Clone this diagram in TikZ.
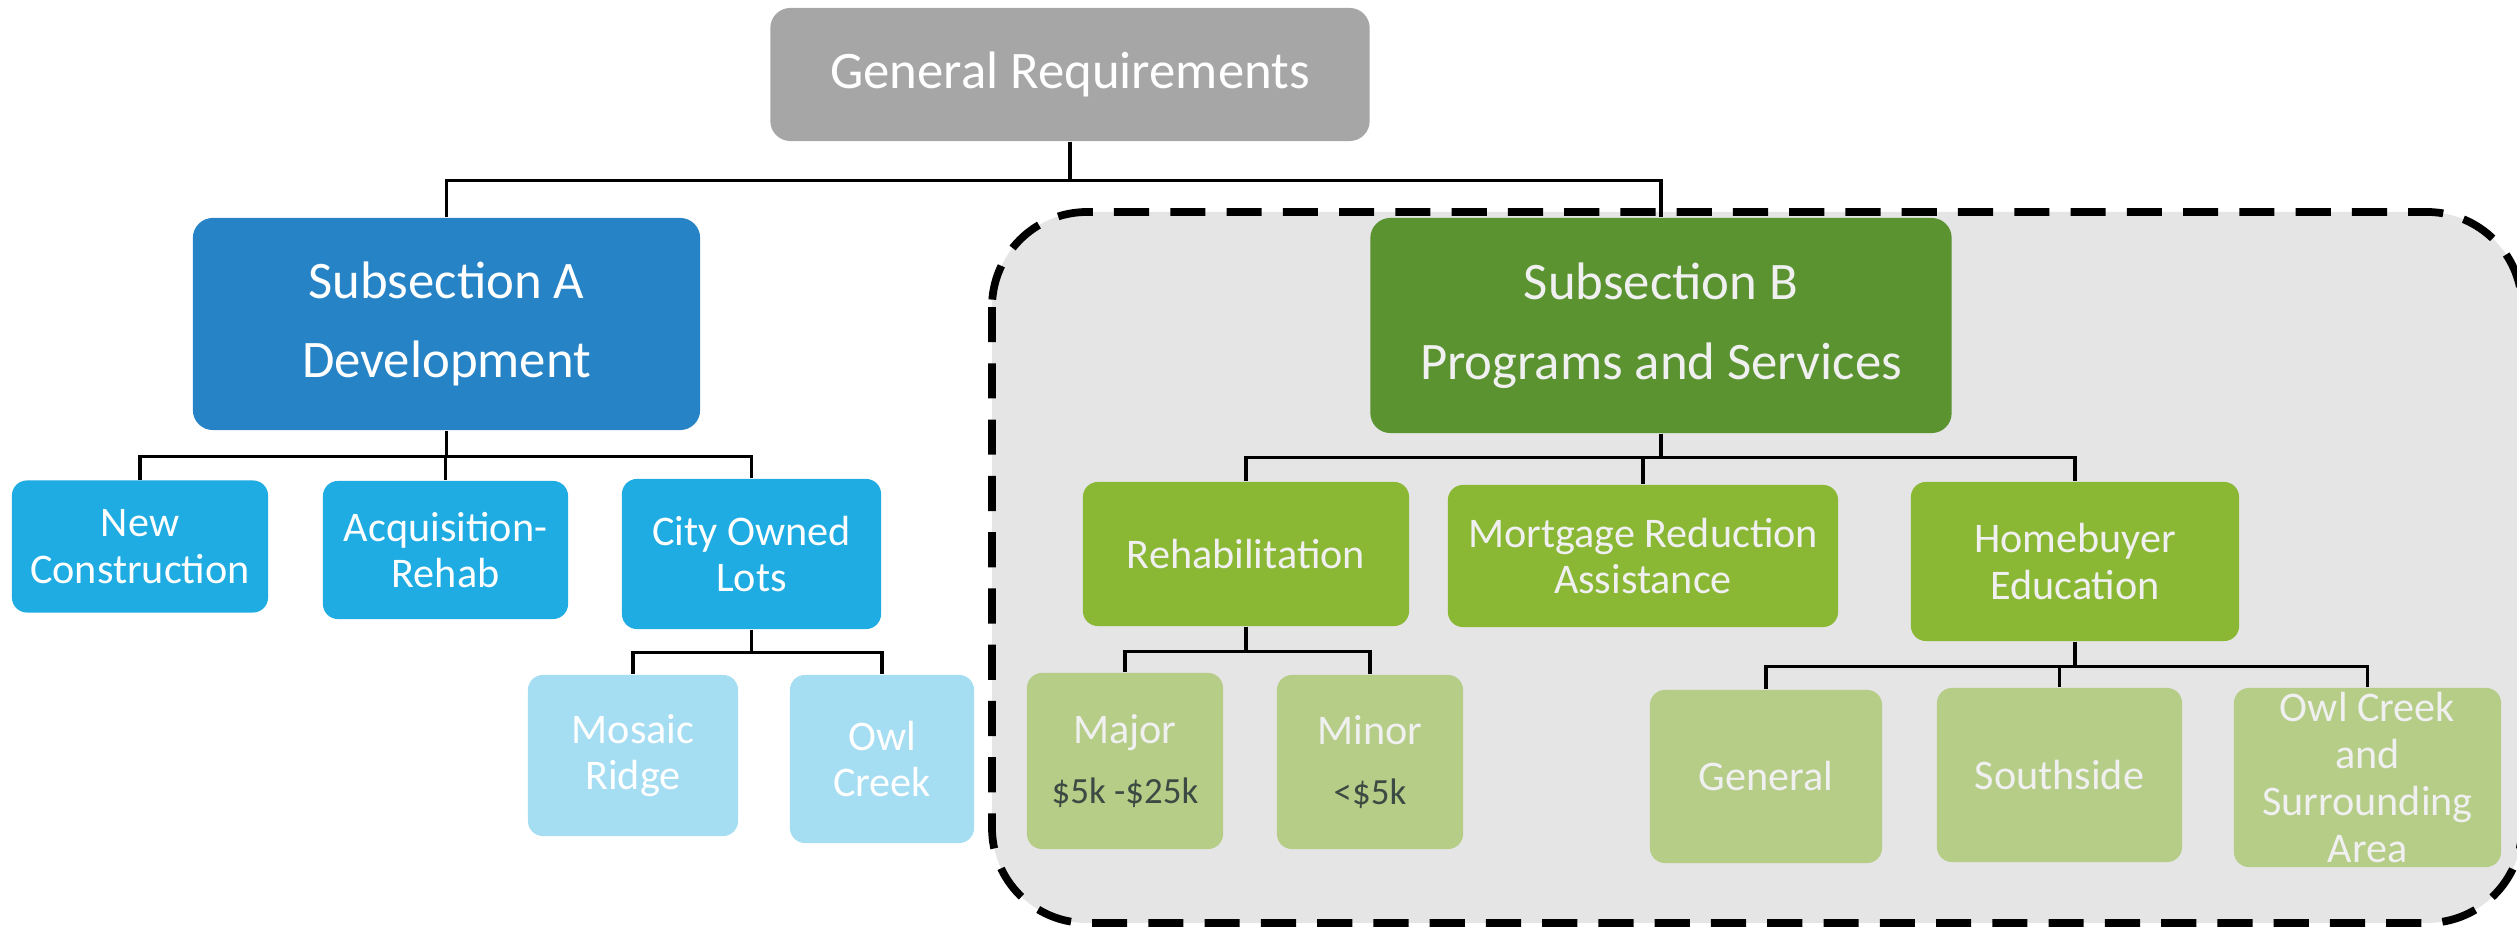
\documentclass[tikz,border=0pt]{standalone}
\usepackage{fontspec}
\setmainfont{Carlito}
\definecolor{reqgray}{HTML}{A6A6A6}
\definecolor{devblue}{HTML}{2683C6}
\definecolor{devlight}{HTML}{1EACE2}
\definecolor{devpale}{HTML}{A5DDF2}
\definecolor{proggreen}{HTML}{5B9331}
\definecolor{progmid}{HTML}{8AB734}
\definecolor{progpale}{HTML}{B6CD88}
\definecolor{panel}{HTML}{E5E5E5}
\definecolor{paletext}{HTML}{F0F0F0}
\definecolor{costtext}{HTML}{3B4A42}

\begin{document}
\begin{tikzpicture}[x=0.01cm,y=-0.01cm,
  box/.style={rounded corners=0.15cm,inner sep=0pt,align=center,text=white,font=\fontsize{12}{13.3}\selectfont},
  head/.style={box,rounded corners=0.2cm,font=\fontsize{15}{22.7}\selectfont},
  conn/.style={line width=0.9pt}]
\useasboundingbox (0,0) rectangle (2517,928);
\draw[fill=panel,line width=2.2pt,dash pattern=on 10pt off 6pt,rounded corners=0.95cm] (992,212) rectangle (2522,923);

\node[head,fill=reqgray,minimum width=5.99cm,minimum height=1.33cm,font=\fontsize{15}{18}\selectfont] (gen) at (1070,74.5) {General Requirements};
\node[head,fill=devblue,minimum width=5.07cm,minimum height=2.12cm] (subA) at (446.5,324) {Subsection A\\Development};
\node[head,fill=proggreen,text=paletext,minimum width=5.81cm,minimum height=2.15cm] (subB) at (1661,325.5) {Subsection B\\Programs and Services};

\node[box,fill=devlight,minimum width=2.56cm,minimum height=1.32cm] (newc) at (140,546.5) {New\\Construction};
\node[box,fill=devlight,minimum width=2.45cm,minimum height=1.38cm] (acq) at (445.5,550) {Acquisition-\\Rehab};
\node[box,fill=devlight,minimum width=2.59cm,minimum height=1.50cm] (city) at (751.5,554) {City Owned\\Lots};
\node[box,fill=devpale,minimum width=2.10cm,minimum height=1.61cm] (mosaic) at (633,755.5) {Mosaic\\Ridge};
\node[box,fill=devpale,minimum width=1.84cm,minimum height=1.68cm] (owl) at (882,759) {Owl\\Creek};

\node[box,fill=progmid,text=paletext,minimum width=3.26cm,minimum height=1.44cm] (rehab) at (1246,554) {Rehabilitation};
\node[box,fill=progmid,text=paletext,minimum width=3.90cm,minimum height=1.42cm] (mort) at (1643,556) {Mortgage Reduction\\Assistance};
\node[box,fill=progmid,text=paletext,minimum width=3.28cm,minimum height=1.59cm] (home) at (2075,561.5) {Homebuyer\\Education};

\node[box,fill=progpale,text=paletext,minimum width=1.96cm,minimum height=1.76cm] (major) at (1125,761) {Major\\[4pt]{\color{costtext}\fontsize{10.5}{12}\selectfont\$5k -\$25k}};
\node[box,fill=progpale,text=paletext,minimum width=1.86cm,minimum height=1.74cm] (minor) at (1370,762) {Minor\\[4pt]{\color{costtext}\fontsize{10.5}{12}\selectfont<\$5k}};
\node[box,fill=progpale,text=paletext,minimum width=2.32cm,minimum height=1.73cm] (general) at (1766,776.5) {General};
\node[box,fill=progpale,text=paletext,minimum width=2.45cm,minimum height=1.74cm] (south) at (2059.5,775) {Southside};
\node[box,fill=progpale,text=paletext,minimum width=2.67cm,minimum height=1.79cm] (owlarea) at (2367.5,777.5) {Owl Creek\\and\\Surrounding\\Area};

\path (gen.south) ++(0,39) coordinate (j0);
\draw[conn] (gen.south) -- (j0);
\draw[conn] (j0) -| (subA.north);
\draw[conn] (j0) -| (subB.north);

\path (subA.south) ++(0,26) coordinate (j1);
\draw[conn] (subA.south) -- (j1);
\draw[conn] (j1) -| (newc.north);
\draw[conn] (j1) -| (acq.north);
\draw[conn] (j1) -| (city.north);

\path (city.south) ++(0,23) coordinate (j2);
\draw[conn] (city.south) -- (j2);
\draw[conn] (j2) -| (mosaic.north);
\draw[conn] (j2) -| (owl.north);

\path (subB.south) ++(0,24) coordinate (j3);
\draw[conn] (subB.south) -- (j3);
\draw[conn] (j3) -| (rehab.north);
\draw[conn] (j3) -| (mort.north);
\draw[conn] (j3) -| (home.north);

\path (rehab.south) ++(0,25) coordinate (j4);
\draw[conn] (rehab.south) -- (j4);
\draw[conn] (j4) -| (major.north);
\draw[conn] (j4) -| (minor.north);

\path (home.south) ++(0,25) coordinate (j5);
\draw[conn] (home.south) -- (j5);
\draw[conn] (j5) -| (general.north);
\draw[conn] (j5) -| (south.north);
\draw[conn] (j5) -| (owlarea.north);
\end{tikzpicture}
\end{document}
